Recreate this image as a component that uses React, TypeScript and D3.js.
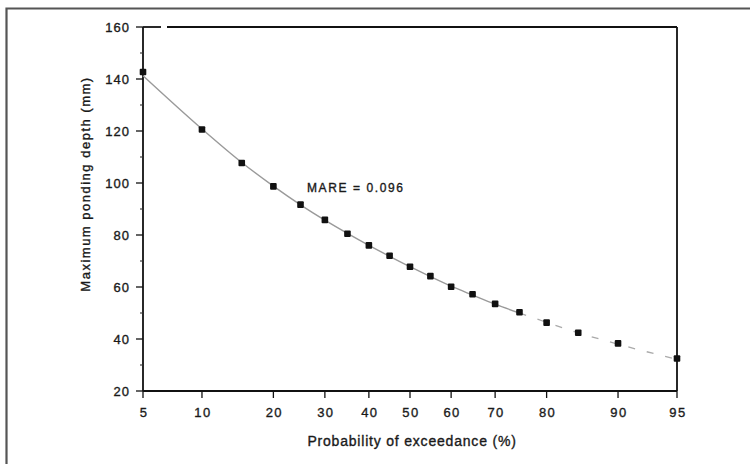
import * as d3 from "d3";
import React, { useEffect, useRef } from "react";

// probability of exceedance (%) at each plotted point
const probs = [5, 10, 15, 20, 25, 30, 35, 40, 45, 50, 55, 60, 65, 70, 75, 80, 85, 90, 95];
// observed maximum ponding depth (mm)
const depths = [142.7, 120.6, 107.7, 98.7, 91.7, 85.8, 80.5, 76.0, 72.0, 67.8, 64.2, 60.1, 57.2, 53.5, 50.3, 46.3, 42.4, 38.3, 32.5];
// fitted curve
const fitSolid = [141.3, 120.8, 107.9, 98.8, 91.6, 85.7, 80.6, 76.0, 71.8, 67.8, 64.0, 60.3, 56.9, 53.4, 50.0];
const fitDashed = [50.0, 46.4, 42.4, 38.0, 32.2];
const fitDashedProbs = [75, 80, 85, 90, 95];

const xTicks = [5, 10, 20, 30, 40, 50, 60, 70, 80, 90, 95];
const yTicks = [20, 40, 60, 80, 100, 120, 140, 160];
const yMinor = [30, 50, 70, 90, 110, 130, 150];

const W = 750;
const H = 464;
const plot = { left: 143, right: 677, top: 27, bottom: 391 };
const FONT = "'Liberation Sans', Arial, sans-serif";

// inverse standard normal CDF (Acklam), used for the probability axis
function probit(p: number): number {
  const a = [-39.69683028665376, 220.9460984245205, -275.9285104469687, 138.357751867269, -30.66479806614716, 2.506628277459239];
  const b = [-54.47609879822406, 161.5858368580409, -155.6989798598866, 66.80131188771972, -13.28068155288572];
  const c = [-0.007784894002430293, -0.3223964580411365, -2.400758277161838, -2.549732539343734, 4.374664141464968, 2.938163982698783];
  const d = [0.007784695709041462, 0.3224671290700398, 2.445134137142996, 3.754408661907416];
  const pl = 0.02425;
  if (p < pl) {
    const q = Math.sqrt(-2 * Math.log(p));
    return (((((c[0] * q + c[1]) * q + c[2]) * q + c[3]) * q + c[4]) * q + c[5]) /
      ((((d[0] * q + d[1]) * q + d[2]) * q + d[3]) * q + 1);
  }
  if (p > 1 - pl) return -probit(1 - p);
  const q = p - 0.5;
  const r = q * q;
  return (((((a[0] * r + a[1]) * r + a[2]) * r + a[3]) * r + a[4]) * r + a[5]) * q /
    (((((b[0] * r + b[1]) * r + b[2]) * r + b[3]) * r + b[4]) * r + 1);
}

const App = () => {
  const ref = useRef<SVGSVGElement | null>(null);

  useEffect(() => {
    if (!ref.current) return;
    const svg = d3.select(ref.current);
    svg.selectAll("*").remove();

    const z = d3.scaleLinear()
      .domain([probit(0.05), probit(0.95)])
      .range([plot.left, plot.right]);
    const x = (p: number) => z(probit(p / 100));
    const y = d3.scaleLinear().domain([20, 160]).range([plot.bottom, plot.top]);

    svg.append("rect").attr("width", W).attr("height", H).attr("fill", "#fff");

    // outer frame of the figure
    svg.append("path")
      .attr("d", `M6.5,${H} V8.5 H${W}`)
      .attr("fill", "none")
      .attr("stroke", "#555")
      .attr("stroke-width", 2.2);

    // plot box
    const box = svg.append("g").attr("stroke", "#111").attr("stroke-width", 1.8).attr("fill", "none");
    box.append("line").attr("x1", plot.left).attr("x2", plot.left).attr("y1", plot.top).attr("y2", plot.bottom);
    box.append("line").attr("x1", plot.left).attr("x2", plot.right).attr("y1", plot.bottom).attr("y2", plot.bottom);
    box.append("line").attr("x1", plot.right).attr("x2", plot.right).attr("y1", plot.top).attr("y2", plot.bottom);
    box.append("line").attr("x1", plot.left).attr("x2", plot.left + 18).attr("y1", plot.top).attr("y2", plot.top);
    box.append("line").attr("x1", plot.left + 24).attr("x2", plot.right).attr("y1", plot.top).attr("y2", plot.top);

    // shared look for the scanned text
    const ink = (t: d3.Selection<SVGTextElement, any, any, any>) =>
      t.attr("font-family", FONT).attr("fill", "#1a1a1a").attr("stroke", "#1a1a1a").attr("stroke-width", 0.35);

    // y axis ticks
    const yAxis = svg.append("g");
    yAxis.selectAll("line.major").data(yTicks).enter().append("line")
      .attr("x1", plot.left - 7).attr("x2", plot.left)
      .attr("y1", d => y(d)).attr("y2", d => y(d))
      .attr("stroke", "#111").attr("stroke-width", 1.3);
    yAxis.selectAll("line.minor").data(yMinor).enter().append("line")
      .attr("x1", plot.left - 3).attr("x2", plot.left)
      .attr("y1", d => y(d)).attr("y2", d => y(d))
      .attr("stroke", "#333").attr("stroke-width", 1.1);
    yAxis.selectAll("text").data(yTicks).enter().append("text")
      .attr("x", plot.left - 13)
      .attr("y", d => y(d) + 4.5)
      .attr("text-anchor", "end")
      .attr("font-size", 13)
      .attr("letter-spacing", 1)
      .call(ink)
      .text(d => d);

    // x axis ticks (normal probability scale)
    const xAxis = svg.append("g");
    xAxis.selectAll("line").data(xTicks).enter().append("line")
      .attr("x1", d => x(d)).attr("x2", d => x(d))
      .attr("y1", plot.bottom).attr("y2", plot.bottom + 7)
      .attr("stroke", "#111").attr("stroke-width", 1.3);
    xAxis.selectAll("text").data(xTicks).enter().append("text")
      .attr("x", d => x(d) + 1)
      .attr("y", plot.bottom + 26)
      .attr("text-anchor", "middle")
      .attr("font-size", 13)
      .attr("letter-spacing", 1.5)
      .call(ink)
      .text(d => d);

    // fitted curve
    const line = d3.line<[number, number]>()
      .curve(d3.curveMonotoneX)
      .x(d => x(d[0]))
      .y(d => y(d[1]));
    svg.append("path")
      .datum(fitSolid.map((v, i) => [probs[i], v] as [number, number]))
      .attr("d", line)
      .attr("fill", "none")
      .attr("stroke", "#9a9a9a")
      .attr("stroke-width", 1.4);
    svg.append("path")
      .datum(fitDashed.map((v, i) => [fitDashedProbs[i], v] as [number, number]))
      .attr("d", line)
      .attr("fill", "none")
      .attr("stroke", "#aaa")
      .attr("stroke-width", 1.3)
      .attr("stroke-dasharray", "7,12");

    // observed points
    svg.append("g").selectAll("rect").data(probs).enter().append("rect")
      .attr("x", d => x(d) - 3.3)
      .attr("y", (d, i) => y(depths[i]) - 3.3)
      .attr("width", 6.6)
      .attr("height", 6.6)
      .attr("rx", 1)
      .attr("fill", "#111");

    svg.append("text")
      .attr("x", 307)
      .attr("y", 192)
      .attr("font-size", 12)
      .attr("letter-spacing", 1.6)
      .call(ink)
      .text("MARE = 0.096");

    svg.append("text")
      .attr("x", (plot.left + plot.right) / 2 + 2)
      .attr("y", 446)
      .attr("text-anchor", "middle")
      .attr("font-size", 14)
      .attr("letter-spacing", 0.8)
      .call(ink)
      .text("Probability of exceedance (%)");

    svg.append("text")
      .attr("transform", `translate(90,184) rotate(-90)`)
      .attr("text-anchor", "middle")
      .attr("font-size", 13)
      .attr("letter-spacing", 1.5)
      .call(ink)
      .text("Maximum ponding depth (mm)");
  }, []);

  return (
    <svg
      ref={ref}
      width={W}
      height={H}
      style={{ position: "fixed", left: 0, top: 0, display: "block" }}
    />
  );
};

export default App;
